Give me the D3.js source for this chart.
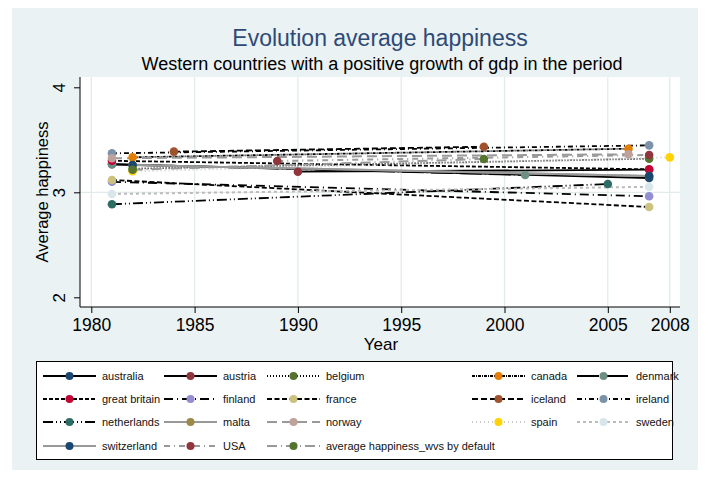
<!DOCTYPE html>
<html>
<head>
<meta charset="utf-8">
<script src="https://cdn.jsdelivr.net/npm/d3@7"></script>
<style>
  body { margin: 0; background: #ffffff; }
  text { font-family: "Liberation Sans", Arial, sans-serif; }
</style>
</head>
<body>
<script>
// Data: first and last survey per country
var countries = ['australia', 'austria', 'belgium', 'canada', 'denmark',
                 'great britain', 'finland', 'france', 'iceland', 'ireland',
                 'netherlands', 'malta', 'norway', 'spain', 'sweden',
                 'switzerland', 'USA', 'average happiness_wvs by default'];

var seriesYears = [
  [1981, 2007], [1990, 2007], [1982, 2007], [1982, 2006], [1981, 2001],
  [1981, 2007], [1981, 2007], [1981, 2007], [1984, 1999], [1981, 2007],
  [1981, 2005], [1982, 2007], [1981, 2006], [1982, 2008], [1981, 2007],
  [1982, 2007], [1989, 2007], [1982, 1999]
];

var seriesValues = [
  [3.267, 3.136], [3.196, 3.215], [3.225, 3.32], [3.333, 3.415], [3.267, 3.165],
  [3.30, 3.219], [3.10, 2.962], [3.117, 2.860], [3.387, 3.434], [3.371, 3.447],
  [2.886, 3.079], [3.26, 3.155], [3.324, 3.362], [3.20, 3.333], [2.984, 3.052],
  [3.26, 3.155], [3.298, 3.355], [3.215, 3.317]
];

var xTicks = [1980, 1985, 1990, 1995, 2000, 2005, 2008];
var yTicks = [2, 3, 4];

// styles (Stata s2color look)
var markerColors = ['#1a476f', '#90353b', '#55752f', '#e37e00', '#6e8e84',
                    '#c10534', '#938dd2', '#cac27e', '#a0522d', '#7b92a8',
                    '#2d6d66', '#9c8847', '#bfa19c', '#ffd200', '#d9e6eb',
                    '#1a476f', '#90353b', '#55752f'];
var lineColors = ['#000', '#000', '#000', '#000', '#000',
                  '#000', '#000', '#000', '#000', '#000',
                  '#000', '#999', '#999', '#ccc', '#bbb',
                  '#999', '#999', '#999'];
var lineDash = ['none', 'none', '1,2', '3,1,1,1', '22,3,1,3',
                '4,2', '9,4,1,4', '5,2.5', '6,3', '5,3,1,3',
                '10,3,1,3,1,3', 'none', '10,5', '1,3', '3,3',
                'none', '6,4,1,4', '10,4,1,4'];

var width  = 707;
var height = 477;
var plot = { left: 80, right: 680, top: 77, bottom: 307 };
var font = '"Liberation Sans", Arial, sans-serif';

var svg = d3.select('body')
  .append('svg')
    .attr('width', width)
    .attr('height', height);

svg.append('rect')
    .attr('x', 12).attr('y', 8)
    .attr('width', 686).attr('height', 462)
    .attr('fill', '#eaf2f3');

svg.append('rect')
    .attr('x', plot.left).attr('y', plot.top)
    .attr('width', plot.right - plot.left)
    .attr('height', plot.bottom - plot.top)
    .attr('fill', '#ffffff');

var xScale = d3.scaleLinear()
    .domain([1980, 2008])
    .range([91.3, 669.8]);

var yScale = d3.scaleLinear()
    .domain([2, 4])
    .range([297.3, 87.3]);

// grid lines
svg.append('g').selectAll('line')
  .data(xTicks)
  .enter().append('line')
    .attr('x1', function (d) { return xScale(d); })
    .attr('x2', function (d) { return xScale(d); })
    .attr('y1', plot.top)
    .attr('y2', plot.bottom)
    .attr('stroke', '#e1ebec')
    .attr('stroke-width', 1.3);

svg.append('line')
    .attr('x1', plot.left).attr('x2', plot.right)
    .attr('y1', yScale(3)).attr('y2', yScale(3))
    .attr('stroke', '#e1ebec')
    .attr('stroke-width', 1.3);

// axes
var xAxis = d3.axisBottom(xScale)
    .tickValues(xTicks)
    .tickFormat(d3.format('d'))
    .tickSize(6)
    .tickSizeOuter(0)
    .tickPadding(6);

var gx = svg.append('g')
    .attr('transform', 'translate(0,' + plot.bottom + ')')
    .call(xAxis);
gx.select('.domain').attr('d', 'M' + plot.left + ',0H' + plot.right).attr('stroke', '#000');
gx.selectAll('text').attr('font-size', 17.5).attr('fill', '#000').style('font-family', font);

var yAxis = d3.axisLeft(yScale)
    .tickValues(yTicks)
    .tickFormat(d3.format('d'))
    .tickSize(6)
    .tickSizeOuter(0);

var gy = svg.append('g')
    .attr('transform', 'translate(' + plot.left + ',0)')
    .call(yAxis);
gy.select('.domain').attr('d', 'M0,' + plot.top + 'V' + plot.bottom).attr('stroke', '#000');
gy.selectAll('text')
    .attr('font-size', 17)
    .attr('fill', '#000')
    .style('font-family', font)
    .attr('x', 0)
    .attr('y', -15)
    .attr('dy', 0)
    .attr('text-anchor', 'middle')
    .attr('transform', 'rotate(-90)');

// titles
svg.append('text')
    .attr('x', 380).attr('y', 46)
    .attr('text-anchor', 'middle')
    .attr('font-size', 23)
    .attr('fill', '#2e4a76')
    .text('Evolution average happiness');

svg.append('text')
    .attr('x', 382).attr('y', 70)
    .attr('text-anchor', 'middle')
    .attr('font-size', 18)
    .attr('fill', '#000')
    .text('Western countries with a positive growth of gdp in the period');

svg.append('text')
    .attr('x', 381).attr('y', 350)
    .attr('text-anchor', 'middle')
    .attr('font-size', 17)
    .attr('fill', '#000')
    .text('Year');

svg.append('text')
    .attr('transform', 'translate(48,192) rotate(-90)')
    .attr('text-anchor', 'middle')
    .attr('font-size', 16.5)
    .attr('fill', '#000')
    .text('Average happiness');

// series
var series = countries.map(function (c, i) {
  return {
    name: c,
    i: i,
    points: seriesYears[i].map(function (y, j) { return { year: y, value: seriesValues[i][j] }; })
  };
});

var line = d3.line()
    .x(function (d) { return xScale(d.year); })
    .y(function (d) { return yScale(d.value); });

var chartGroup = svg.append('g');

series.forEach(function (s) {
  chartGroup.append('path')
      .attr('d', line(s.points))
      .attr('fill', 'none')
      .attr('stroke', lineColors[s.i])
      .attr('stroke-width', s.i < 11 ? 1.8 : 2)
      .attr('stroke-dasharray', lineDash[s.i]);
});

series.forEach(function (s) {
  chartGroup.selectAll(null)
    .data(s.points)
    .enter().append('circle')
      .attr('cx', function (d) { return xScale(d.year); })
      .attr('cy', function (d) { return yScale(d.value); })
      .attr('r', 4.3)
      .attr('fill', markerColors[s.i]);
});

// legend
var legendCols = [43, 164, 267, 472, 577];
var legendRows = [376, 399, 422, 446];

svg.append('rect')
    .attr('x', 36.5).attr('y', 361.5)
    .attr('width', 636).attr('height', 98)
    .attr('fill', '#ffffff')
    .attr('stroke', '#000')
    .attr('stroke-width', 1);

var legend = svg.append('g').selectAll('g')
  .data(series)
  .enter().append('g')
    .attr('transform', function (d) {
      return 'translate(' + legendCols[d.i % 5] + ',' + legendRows[Math.floor(d.i / 5)] + ')';
    });

legend.append('line')
    .attr('x1', 0).attr('x2', 53)
    .attr('y1', 0).attr('y2', 0)
    .attr('stroke', function (d) { return lineColors[d.i]; })
    .attr('stroke-width', function (d) { return d.i < 11 ? 1.8 : 2; })
    .attr('stroke-dasharray', function (d) { return lineDash[d.i]; });

legend.append('circle')
    .attr('cx', 26.5).attr('cy', 0)
    .attr('r', 4)
    .attr('fill', function (d) { return markerColors[d.i]; });

legend.append('text')
    .attr('x', 59).attr('y', 4)
    .attr('font-size', 11)
    .attr('fill', '#111')
    .text(function (d) { return d.name; });
</script>
</body>
</html>
